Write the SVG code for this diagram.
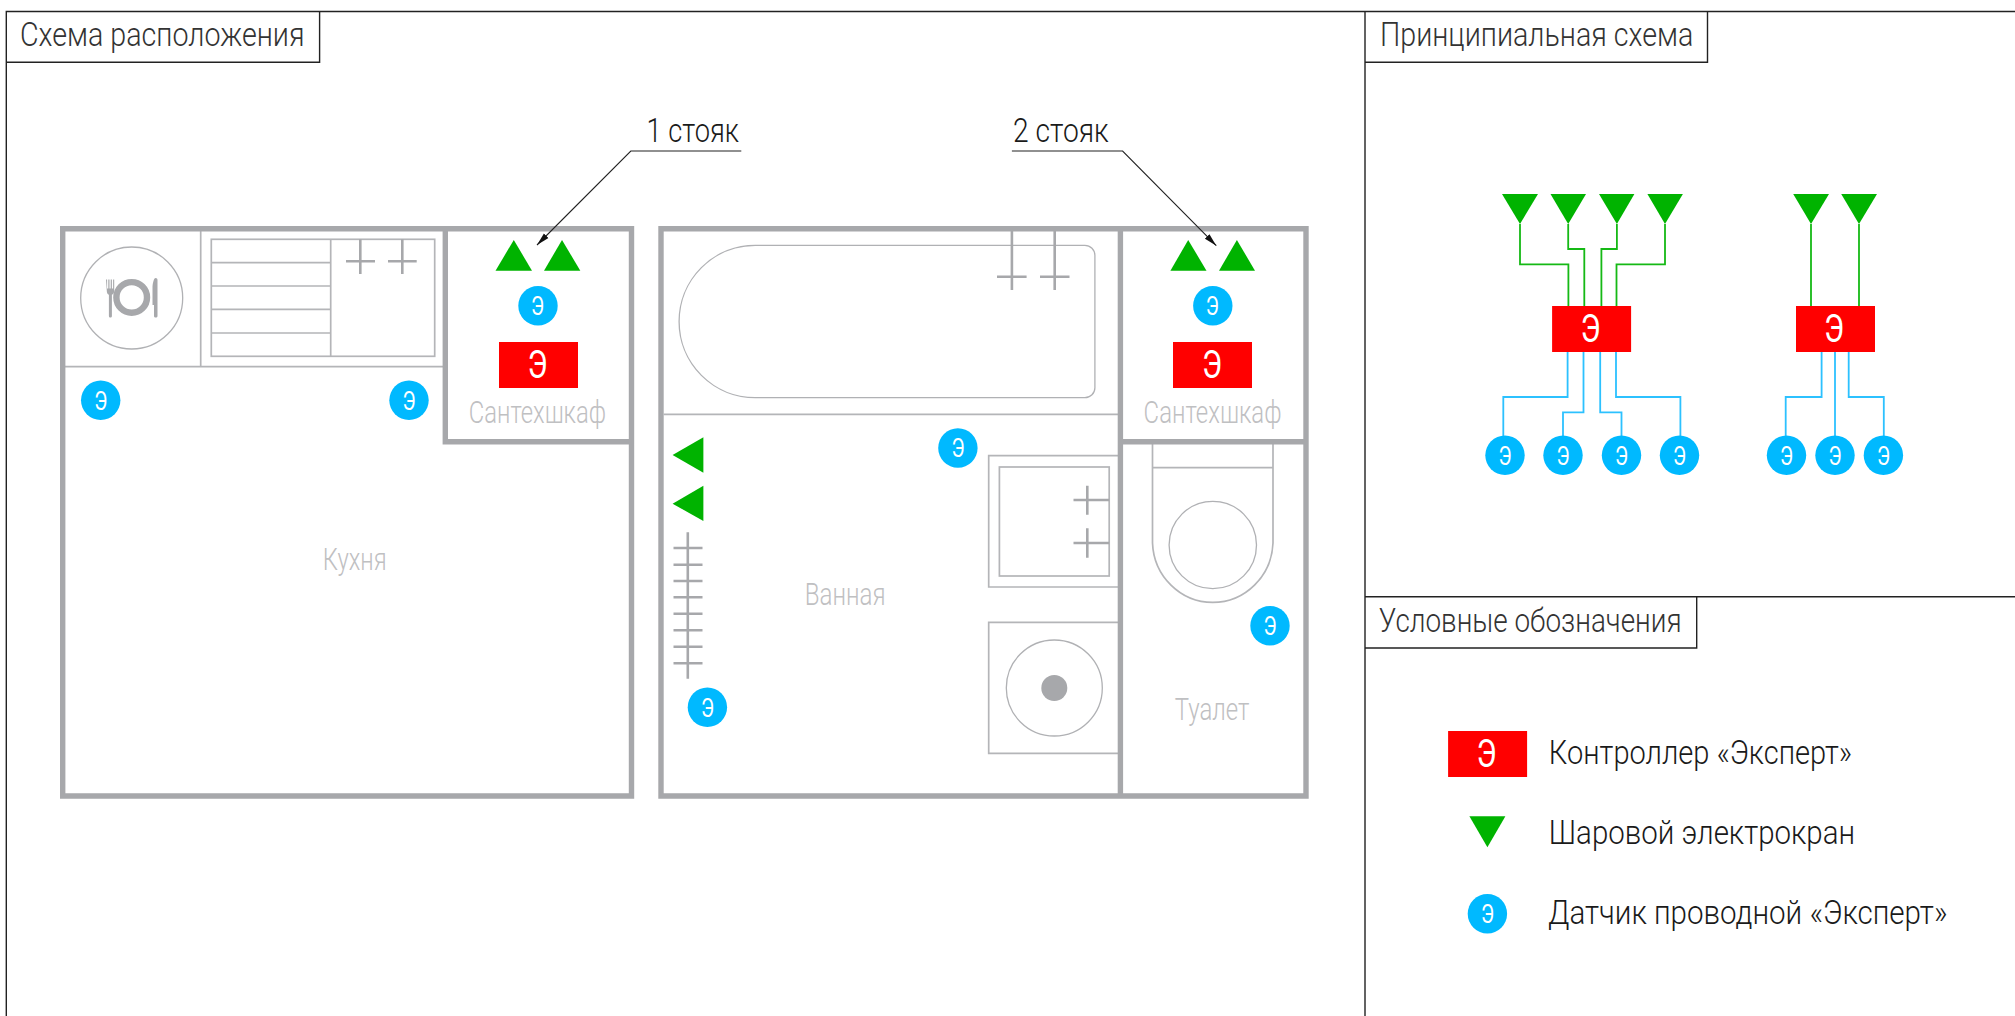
<svg xmlns="http://www.w3.org/2000/svg" width="2015" height="1016" viewBox="0 0 2015 1016">
<style>
text{font-family:Roboto,"Liberation Sans",sans-serif}
.frame{fill:none;stroke:#222;stroke-width:1.4}
.title{font-size:33px;font-weight:300;fill:#333}
.dark{font-size:33px;font-weight:300;fill:#1a1a1a}
.room{font-size:32px;font-weight:300;fill:#bfc0c2}
.wall{fill:none;stroke:#a7a8ab;stroke-width:5.4}
.thin{fill:none;stroke:#b4b5b8;stroke-width:1.7}
.hair{fill:none;stroke:#b0b1b4;stroke-width:1.3}
.cross{fill:none;stroke:#a7a8ab;stroke-width:2.6}
.valve{fill:#00b300}
.sensor{fill:#00b9ff}
.ctrl{fill:#f00}
.se{font-size:25px;fill:#fff;text-anchor:middle}
.ce{font-size:39px;fill:#fff;text-anchor:middle}
.gw{fill:none;stroke:#15b915;stroke-width:1.8}
.bw{fill:none;stroke:#2cc1ff;stroke-width:1.8}
.lead{fill:none;stroke:#222;stroke-width:1.1}
</style>
<defs>
<marker id="arr" markerWidth="14" markerHeight="8" refX="13" refY="4" orient="auto" markerUnits="userSpaceOnUse"><path d="M0 0.8L13 4L0 7.2Z" fill="#111"/></marker>
</defs>
<rect width="2015" height="1016" fill="#fff"/>

<g id="frames">
<path class="frame" d="M2015 11.5H6.3V1016M1365 11.5V1016M1365 596.7H2015"/>
<path class="frame" d="M6.3 62.3H319.6V11.5M1365 62.3H1707.5V11.5M1365 648H1696.7V596.7"/>
<text class="title" x="20" y="45.7" textLength="284.5" lengthAdjust="spacingAndGlyphs">Схема расположения</text>
<text class="title" x="1380" y="45.7" textLength="313.3" lengthAdjust="spacingAndGlyphs">Принципиальная схема</text>
<text class="title" x="1378.8" y="631.7" textLength="302.8" lengthAdjust="spacingAndGlyphs">Условные обозначения</text>
</g>

<g id="plan-fixtures">
<path class="thin" d="M200.7 231V367M65 366.7H445"/>
<circle class="hair" cx="131.7" cy="298" r="51"/>
<g id="plate-icon" fill="#a7a8ab">
<circle cx="131.7" cy="297.4" r="15.3" fill="none" stroke="#a7a8ab" stroke-width="6.4"/>
<path d="M106 279.5h1.1v9h1.2v-9h1.2v9h1.2v-9h1.2v9h1.2v-9h1.1v11.5c0 2-1 3.2-2.3 3.7V316c0 2-3 2-3 0V294.7c-1.3-.5-2.1-1.700-2.100-3.700Z"/>
<path d="M155.500 278c1.300 0 2 .7 2 2V316c0 2-3.500 2-3.500 0V305h-1.500V288c0-5 1.500-10 3-10Z"/>
</g>
<rect class="thin" x="211.3" y="239.3" width="223.4" height="117"/>
<path class="thin" d="M330.7 239.3V356.3M211.3 262.700H330.700M211.300 286H330.700M211.300 309.300H330.700M211.300 333H330.700"/>
<path class="cross" d="M360.3 239.3V274M346 261.3H375M402.3 239.3V274M388 261.3H416.7"/>

<path class="hair" d="M755.3 245.3H1084.9a10 10 0 0 1 10 10V387.700a10 10 0 0 1 -10 10H755.3a76.2 76.2 0 0 1 0 -152.4Z"/>
<path class="thin" d="M663.7 414.3H1118"/>
<path class="cross" d="M1011.9 231V290M997 276.7H1026.600M1054.700 231V290M1040 276.700H1069.500"/>
<path class="cross" d="M687.8 532.3V678.7M673.5 548H702.5M673.5 564.7H702.5M673.5 581H702.5M673.5 597.3H702.5M673.5 613.7H702.5M673.5 630.3H702.5M673.5 646.7H702.5M673.5 663.3H702.5"/>
<path class="thin" d="M1118 455.7H988.7V587H1118"/>
<rect class="thin" x="999.4" y="467" width="109.8" height="109"/>
<path class="cross" d="M1087.3 485.7V514.7M1073.5 500H1109.2M1087.3 528.3V557.7M1073.5 543H1109.2"/>
<path class="thin" d="M1118 622.3H988.7V753.3H1118"/>
<circle class="hair" cx="1054.3" cy="688" r="48"/>
<circle cx="1054.3" cy="688" r="13" fill="#a7a8ab"/>
<path class="thin" d="M1152.5 444V543A60.3 62 0 0 0 1273 543V444M1152.5 467.7H1273"/>
<circle class="hair" cx="1212.8" cy="545" r="43.7"/>
</g>

<g id="plan-walls">
<path class="wall" d="M62.7 228.7H631.5V796H62.7ZM445.3 228.7V441.7H631.5"/>
<path class="wall" d="M661 228.7H1306V796H661ZM1120.4 228.7V796M1120.4 441.7H1306"/>
</g>

<g id="plan-labels">
<text class="room" x="468.8" y="423.3" textLength="137.2" lengthAdjust="spacingAndGlyphs">Сантехшкаф</text>
<text class="room" x="1143.6" y="423.3" textLength="137.9" lengthAdjust="spacingAndGlyphs">Сантехшкаф</text>
<text class="room" x="322.7" y="570" textLength="64" lengthAdjust="spacingAndGlyphs">Кухня</text>
<text class="room" x="804.7" y="605.3" textLength="80.8" lengthAdjust="spacingAndGlyphs">Ванная</text>
<text class="room" x="1174.8" y="719.7" textLength="74.6" lengthAdjust="spacingAndGlyphs">Туалет</text>
</g>

<g id="connectors">
<path class="lead" d="M741.3 151H630.8L537 245" marker-end="url(#arr)"/>
<path class="lead" d="M1011.9 151H1122.6L1216.3 245.7" marker-end="url(#arr)"/>
<path class="gw" d="M1520 224V264.3H1568.4V306"/>
<path class="gw" d="M1568.2 224V249H1584.3V306"/>
<path class="gw" d="M1616.9 224V249H1601.4V306"/>
<path class="gw" d="M1665 224V264.3H1616.5V306"/>
<path class="gw" d="M1811 224V306"/>
<path class="gw" d="M1859 224V306"/>
<path class="bw" d="M1567.6 352V397H1503.3V436"/>
<path class="bw" d="M1583.5 352V412.3H1563V436"/>
<path class="bw" d="M1600.2 352V412.3H1621.5V436"/>
<path class="bw" d="M1616 352V397H1680.4V436"/>
<path class="bw" d="M1821.6 352V397H1785.7V436"/>
<path class="bw" d="M1835 352V436"/>
<path class="bw" d="M1848.7 352V397H1883.8V436"/>
</g>

<g id="riser-1-label"><text class="dark" x="646.5" y="142.3" textLength="92.5" lengthAdjust="spacingAndGlyphs">1 стояк</text></g>
<g id="riser-2-label"><text class="dark" x="1013" y="142.3" textLength="95.7" lengthAdjust="spacingAndGlyphs">2 стояк</text></g>

<g id="plan-valves">
<polygon class="valve" points="513.8,240 532,270.7 495.5,270.7"/>
<polygon class="valve" points="562,240 580.3,270.7 544,270.7"/>
<polygon class="valve" points="1188.2,240 1206.5,270.7 1170.4,270.7"/>
<polygon class="valve" points="1236.9,240 1255,270.7 1219,270.7"/>
<polygon class="valve" points="672.6,455 703.4,437.3 703.4,472.7"/>
<polygon class="valve" points="672.6,503.7 703.4,485.7 703.4,521"/>
</g>

<g id="plan-sensor-1"><circle class="sensor" cx="538" cy="305.7" r="19.7"/><text class="se" x="537.5" y="315" textLength="13" lengthAdjust="spacingAndGlyphs">Э</text></g>
<g id="plan-sensor-2"><circle class="sensor" cx="100.7" cy="400.3" r="19.7"/><text class="se" x="100.7" y="409.5" textLength="13" lengthAdjust="spacingAndGlyphs">Э</text></g>
<g id="plan-sensor-3"><circle class="sensor" cx="409" cy="400.3" r="19.7"/><text class="se" x="409" y="409.5" textLength="13" lengthAdjust="spacingAndGlyphs">Э</text></g>
<g id="plan-sensor-4"><circle class="sensor" cx="1212.8" cy="305.7" r="19.7"/><text class="se" x="1212.3" y="315" textLength="13" lengthAdjust="spacingAndGlyphs">Э</text></g>
<g id="plan-sensor-5"><circle class="sensor" cx="957.9" cy="448" r="19.7"/><text class="se" x="957.9" y="457.3" textLength="13" lengthAdjust="spacingAndGlyphs">Э</text></g>
<g id="plan-sensor-6"><circle class="sensor" cx="1270" cy="625.7" r="19.7"/><text class="se" x="1270" y="635" textLength="13" lengthAdjust="spacingAndGlyphs">Э</text></g>
<g id="plan-sensor-7"><circle class="sensor" cx="707.4" cy="707.3" r="19.7"/><text class="se" x="707.4" y="716.6" textLength="13" lengthAdjust="spacingAndGlyphs">Э</text></g>
<g id="plan-ctrl-1"><rect class="ctrl" x="499" y="342" width="79" height="46"/><text class="ce" x="537.5" y="378" textLength="20" lengthAdjust="spacingAndGlyphs">Э</text></g>
<g id="plan-ctrl-2"><rect class="ctrl" x="1173" y="342" width="79" height="46"/><text class="ce" x="1212" y="378" textLength="20" lengthAdjust="spacingAndGlyphs">Э</text></g>

<g id="sch-valves">
<polygon class="valve" points="1502,194 1538,194 1520,224"/>
<polygon class="valve" points="1550.5,194 1586,194 1568.2,224"/>
<polygon class="valve" points="1599,194 1634.4,194 1616.9,224"/>
<polygon class="valve" points="1647.4,194 1682.9,194 1665,224"/>
<polygon class="valve" points="1793.2,194 1829,194 1811,224"/>
<polygon class="valve" points="1841.2,194 1877,194 1859,224"/>
</g>
<g id="sch-ctrl-1"><rect class="ctrl" x="1552.1" y="306" width="79" height="46"/><text class="ce" x="1590.6" y="342" textLength="20" lengthAdjust="spacingAndGlyphs">Э</text></g>
<g id="sch-ctrl-2"><rect class="ctrl" x="1796" y="306" width="79" height="46"/><text class="ce" x="1834" y="342" textLength="20" lengthAdjust="spacingAndGlyphs">Э</text></g>
<g id="sch-sensor-1"><circle class="sensor" cx="1505" cy="455.3" r="19.7"/><text class="se" x="1505" y="464.6" textLength="13" lengthAdjust="spacingAndGlyphs">Э</text></g>
<g id="sch-sensor-2"><circle class="sensor" cx="1563" cy="455.3" r="19.7"/><text class="se" x="1563" y="464.6" textLength="13" lengthAdjust="spacingAndGlyphs">Э</text></g>
<g id="sch-sensor-3"><circle class="sensor" cx="1621.5" cy="455.3" r="19.7"/><text class="se" x="1621.5" y="464.6" textLength="13" lengthAdjust="spacingAndGlyphs">Э</text></g>
<g id="sch-sensor-4"><circle class="sensor" cx="1679.5" cy="455.3" r="19.7"/><text class="se" x="1679.5" y="464.6" textLength="13" lengthAdjust="spacingAndGlyphs">Э</text></g>
<g id="sch-sensor-5"><circle class="sensor" cx="1786.5" cy="455.3" r="19.7"/><text class="se" x="1786.5" y="464.6" textLength="13" lengthAdjust="spacingAndGlyphs">Э</text></g>
<g id="sch-sensor-6"><circle class="sensor" cx="1835" cy="455.3" r="19.7"/><text class="se" x="1835" y="464.6" textLength="13" lengthAdjust="spacingAndGlyphs">Э</text></g>
<g id="sch-sensor-7"><circle class="sensor" cx="1883.4" cy="455.3" r="19.7"/><text class="se" x="1883.4" y="464.6" textLength="13" lengthAdjust="spacingAndGlyphs">Э</text></g>

<g id="legend-ctrl"><rect class="ctrl" x="1448.1" y="731" width="79" height="46"/><text class="ce" x="1486.6" y="767" textLength="20" lengthAdjust="spacingAndGlyphs">Э</text>
<text class="dark" x="1548.8" y="764.3" textLength="303.2" lengthAdjust="spacingAndGlyphs">Контроллер «Эксперт»</text></g>
<g id="legend-valve"><polygon class="valve" points="1469.4,816.3 1505.4,816.3 1487.4,847.3"/>
<text class="dark" x="1548.8" y="844.3" textLength="306.2" lengthAdjust="spacingAndGlyphs">Шаровой электрокран</text></g>
<g id="legend-sensor"><circle class="sensor" cx="1487.4" cy="913.7" r="19.7"/><text class="se" x="1487.4" y="923" textLength="13" lengthAdjust="spacingAndGlyphs">Э</text>
<text class="dark" x="1548" y="924.3" textLength="399.3" lengthAdjust="spacingAndGlyphs">Датчик проводной «Эксперт»</text></g>
</svg>
